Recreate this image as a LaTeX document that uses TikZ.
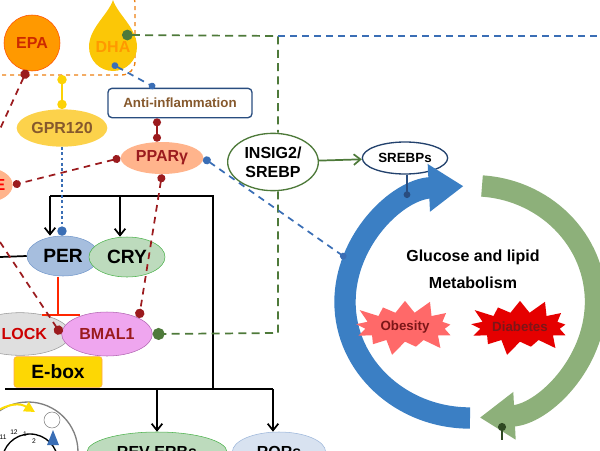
\documentclass[tikz,border=0pt]{standalone}
\usepackage{fontspec}
\setmainfont{Liberation Sans}
\usetikzlibrary{shapes.geometric,shapes.symbols,arrows.meta}
\definecolor{dred}{HTML}{9B1B1E}
\definecolor{dblue}{HTML}{3A6EB5}
\definecolor{dgreen}{HTML}{4E7A3A}
\definecolor{bigblue}{HTML}{3B7FC4}
\definecolor{biggreen}{HTML}{8DB07A}
\begin{document}
\begin{tikzpicture}[x=0.75pt,y=-0.75pt,
  ell/.style={ellipse,draw,font=\bfseries,inner sep=0pt},
  reddash/.style={dred,line width=1.3pt,dash pattern=on 5pt off 4pt},
  bluedash/.style={dblue,line width=1.3pt,dash pattern=on 5pt off 4pt},
  greendash/.style={dgreen,line width=1.3pt,dash pattern=on 6pt off 4pt},
  blk/.style={black,line width=1.3pt},
  arr/.style={-{Straight Barb[length=5pt,width=8pt]}}]
\useasboundingbox (0,0) rectangle (600,450);
% orange dashed group box
\draw[orange!70!brown,dashed,line width=1pt,rounded corners=10pt] (-20,-10) rectangle (135,75);
% EPA
\node[circle,draw=orange!60!red,fill=orange!80!yellow,minimum size=42pt,font=\bfseries\large,text=orange!40!red!80!black] (epa) at (32,43) {EPA};
% DHA drop
\fill[yellow!60!orange] (113,0) .. controls (108,15) and (89,28) .. (89,47) arc[start angle=180,end angle=0,radius=24] .. controls (137,28) and (118,15) .. (113,0);
\node[font=\bfseries\large,text=orange!80!yellow] (dha) at (113,47) {DHA};
\coordinate (dhag) at (122,35);
\coordinate (dhab) at (112,64);
% GPR120
\node[ell,draw=none,fill=yellow!55!orange!70,minimum width=68pt,minimum height=28pt,font=\bfseries\large,text=brown!70!black] (gpr) at (62,128) {GPR120};
\coordinate (boxb) at (62,75);
\draw[yellow!70!orange,line width=1.5pt,{Circle[length=7pt]}-{Circle[length=7pt]}] (boxb) -- (gpr.north);
% Anti-inflammation
\node[draw=dblue!70!black,line width=1pt,rounded corners=3pt,minimum width=108pt,minimum height=22pt,font=\bfseries,text=brown!70!black] (anti) at (180,103) {Anti-inflammation};
\draw[bluedash,{Circle[length=5pt]}-{Circle[length=5pt]}] (dhab) -- (anti.north -| 155,0);
% PPARg
\node[ell,draw=none,fill=red!30!orange!45,minimum width=62pt,minimum height=24pt,font=\bfseries\large,text=dred] (ppar) at (162,158) {PPARγ};
\draw[dred,line width=1.3pt,{Circle[length=6pt]}-{Circle[length=6pt]}] (anti.south -| 157,0) -- (ppar.north -| 157,0);
% left partial node E
\node[ell,draw=none,fill=red!30!orange!45,minimum width=40pt,minimum height=26pt] (enode) at (-14,185) {};
\node[font=\bfseries\large,text=red,anchor=east] (etext) at (10,185) {E};
\draw[reddash,{Circle[length=6pt]}-{Circle[length=6pt]}] (ppar.west) -- (enode.east);
\coordinate (epaoff) at (-5,140);
\draw[reddash,{Circle[length=7pt]}-] (27,70) -- (epaoff);
% INSIG2 / SREBPs
\node[ell,draw=dgreen,line width=1pt,minimum width=68pt,minimum height=43pt,align=center,font=\bfseries\large] (insig) at (273,162) {INSIG2/\\SREBP};
\node[ell,draw=dblue!60!black,line width=1pt,minimum width=64pt,minimum height=24pt] (sreb) at (405,158) {SREBPs};
\draw[dgreen,line width=1.3pt,-{Straight Barb[length=5pt,width=8pt]}] (insig) -- (sreb);
% top dashed lines
\coordinate (gcorner) at (278,36);
\coordinate (rightend) at (600,36);
\draw[greendash,{Circle[length=8pt,width=8pt]}-] (dhag) -- (gcorner) -- (insig.north -| 278,0);
\draw[bluedash] (gcorner) -- (rightend);
% clock structure
\node[ell,draw=dblue!70,fill=dblue!45,minimum width=54pt,minimum height=30pt,font=\bfseries\Large] (per) at (63,256) {PER};
\node[ell,draw=green!40!gray,fill=green!30!gray!40,minimum width=57pt,minimum height=30pt,font=\bfseries\Large] (cry) at (127,257) {CRY};
\node[ell,draw=gray!80,fill=gray!25,minimum width=75pt,minimum height=32pt] (clock) at (20,334) {};
\node[font=\bfseries\large,text=red!80!black,anchor=west] (clocktext) at (-3,334) {LOCK};
\node[ell,draw=violet!60,fill=violet!35!magenta!35,minimum width=68pt,minimum height=33pt,font=\bfseries\large,text=dred] (bmal) at (107,334) {BMAL1};
\node[draw=orange!70,fill=yellow!75!orange,rounded corners=2pt,minimum width=66pt,minimum height=23pt,font=\bfseries\Large] (ebox) at (58,372) {E-box};
\node[ell,draw=green!40!gray,fill=green!30!gray!40,minimum width=105pt,minimum height=30pt,font=\bfseries\large] (rev) at (157,452) {REV-ERBs};
\node[ell,draw=dblue!50,fill=dblue!20,minimum width=70pt,minimum height=30pt,font=\bfseries\large] (ror) at (279,452) {RORs};
% black lines
\coordinate (t1) at (50,196); \coordinate (t2) at (120,196); \coordinate (t3) at (213,196);
\coordinate (b0) at (5,389); \coordinate (b1) at (157,389); \coordinate (b2) at (273,389); \coordinate (b3) at (213,389);
\coordinate (lper) at (0,257);
\draw[blk] (t1) -- (t3) -- (b3);
\draw[blk,arr] (t1) -- (t1 |- per.north);
\draw[blk,arr] (t2) -- (t2 |- cry.north);
\draw[blk] (b0) -- (b2);
\draw[blk,arr] (b1) -- (rev.north);
\draw[blk,arr] (b2) -- (b2 |- ror.north);
\draw[blk] (lper) -- (per.west);
% PER tee
\draw[red!70!orange,line width=1.3pt] (58,277) -- (58,315);
\draw[red!70!orange,line width=1.3pt] (42,315) -- (80,315);
% gpr to per
\draw[dblue,line width=1.2pt,dash pattern=on 2pt off 2pt,-{Circle[length=7pt]}] (gpr.south) -- (per.north -| 62,0);
% red dashed to BMAL1
\coordinate (lred) at (0,242);
\draw[reddash,-{Circle[length=7pt]}] (lred) -- (61,334);
\draw[reddash,{Circle[length=6pt]}-{Circle[length=7pt]}] (ppar.south) -- (139,318);
% green dashed to BMAL1
\coordinate (gc2) at (278,333);
\draw[greendash,-{Circle[length=9pt,width=9pt]}] (insig.south -| 278,0) -- (gc2) -- (bmal.east);
% big circle arrows
\draw[bigblue,line width=16pt,-{Triangle[length=26pt,width=34pt]}] (470,418) arc[start angle=90,end angle=267,x radius=125,y radius=116];
\draw[biggreen,line width=16pt,-{Triangle[length=26pt,width=34pt]}] (482,186) arc[start angle=274,end angle=447,x radius=122,y radius=116];
% blue dashed from PPAR
\coordinate (cdot) at (346,258);
\draw[bluedash,{Circle[length=6pt]}-{Circle[length=5pt]}] (ppar.east) -- (cdot);
% SREBPs tee
\draw[dblue!70!black,line width=1.2pt,-{Circle[length=5pt]}] (sreb.south -| 407,0) -- (407,198);
% bottom green dot
\draw[dgreen!60!black,line width=1.5pt,{Circle[length=6pt]}-] (502,423) -- (502,440);
% texts
\node[font=\bfseries\large] (gl) at (473,257) {Glucose and lipid};
\node[font=\bfseries\large] (met) at (473,283) {Metabolism};
\node[starburst,fill=red!45!pink,starburst points=13,starburst point height=12pt,minimum width=84pt,minimum height=46pt,font=\bfseries,text=dred!80!black,inner sep=0pt] (ob) at (405,327) {Obesity};
\node[starburst,fill=red!90!black,starburst points=13,starburst point height=12pt,minimum width=84pt,minimum height=46pt,font=\bfseries,text=dred!80!black,inner sep=0pt] (di) at (520,327) {Diabetes};
% clock icon
\node[circle,draw=gray,line width=1pt,minimum size=75pt] (icon) at (28,452) {};
\node[circle,draw=black,line width=1pt,minimum size=42pt] (face) at (30,462) {};
\node[font=\tiny] (n12) at (14,432) {12};
\node[font=\tiny] (n1) at (25,434) {1};
\node[font=\tiny] (n11) at (3,437) {11};
\node[font=\tiny] (n2) at (34,441) {2};
\draw[yellow!80!orange,line width=1.5pt,-{Triangle[length=8pt,width=8pt]}] (-5,412) .. controls (10,403) and (20,403) .. (35,412);
\node[circle,draw=gray,minimum size=12pt] (face2) at (52,420) {};
\fill[dblue] (53,430) -- (47,445) -- (59,445) -- cycle;
\end{tikzpicture}
\end{document}
